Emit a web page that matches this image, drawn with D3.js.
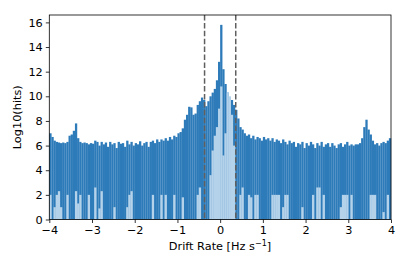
<!DOCTYPE html>
<html><head><meta charset="utf-8">
<script src="https://cdn.jsdelivr.net/npm/d3@7/dist/d3.min.js"></script>
<style>body{margin:0;background:#fff}svg{display:block}text{font-family:"DejaVu Sans",sans-serif}</style>
</head><body><svg id="c" width="407" height="271"></svg>
<script>
const binEdgeStart = -4, binEdgeEnd = 4, binWidth = 0.05;
const allHits = [7.0,6.7,6.4,6.3,6.25,6.2,6.25,6.2,6.3,6.8,
6.9,7.2,7.8,6.6,6.3,6.2,6.25,6.2,6.1,6.2,
6.15,6.4,6.3,6.0,6.3,6.1,6.25,5.9,6.3,6.1,
6.2,5.8,6.3,6.15,6.2,5.9,6.4,6.1,6.3,6.0,
6.2,6.1,6.35,6.0,6.2,6.3,5.9,6.3,6.4,6.2,
6.5,6.3,6.5,6.4,6.6,6.4,6.7,6.5,6.8,6.7,
7.0,7.1,7.4,8.1,8.5,9.15,9.1,8.5,8.6,9.3,
9.6,9.9,9.7,9.2,9.6,10.0,10.3,10.6,11.3,12.8,
15.8,12.2,11.0,10.3,9.9,9.7,9.3,8.9,8.2,7.5,
7.3,7.0,6.8,6.9,6.6,6.8,6.5,6.7,6.6,6.4,
6.7,6.5,6.6,6.4,6.6,6.3,6.5,6.4,6.2,6.5,
6.3,6.1,6.4,6.2,6.3,5.9,6.2,6.1,6.3,5.8,
6.2,6.0,6.3,6.1,5.8,6.2,6.0,6.3,5.9,6.1,
6.2,5.9,6.2,6.0,5.8,6.1,6.2,5.9,6.1,6.3,
6.0,6.1,6.0,6.1,6.1,6.2,6.6,7.5,8.1,7.3,
6.9,6.4,6.1,6.2,6.0,6.2,6.3,6.2,6.4,6.6];
const keptHits = [2.0,0,1.0,2.0,2.3,1.0,0,0,2.0,0,
0,0,2.3,1.3,2.0,0,0,0,2.0,0,
0,2.6,0,0.9,2.3,0,0,0,0,0,
1.0,0,0,0,0,0,1.0,2.0,2.3,0,
0,0,0,0,0,0,0,0,2.0,0,
0,0,2.0,0,2.0,0,0,0,2.0,0,
0,0,1.8,0,0,0,0,0,0,2.0,
2.6,0,0,0,0,3.6,5.6,6.8,7.5,9.0,
10.8,5.2,7.0,10.3,10.0,8.5,6.0,0,0,2.0,
2.6,0,0,2.0,1.8,0,2.0,2.0,0,0,
0,0,0,0,2.0,2.0,2.0,2.0,0,1.0,
2.0,2.0,0,0,0,0,0,0,1.0,0,
0,0,0,2.0,0,2.6,2.6,0,2.0,0,
0,0,0,0,0,0,1.0,2.0,2.0,2.0,
0,2.0,0,0,0,0,0,0,0,0,
2.0,2.0,2.0,0,0,0,0.6,0,2.0,0];
const cutLines = [-0.365, 0.365];
const xTicks = [-4,-3,-2,-1,0,1,2,3,4];
const yTicks = [0,2,4,6,8,10,12,14,16];

const svg = d3.select("#c");
const L = 49.3, R = 391, T = 15, B = 219.5;
const FS = 11.3;
const x = d3.scaleLinear().domain([-4, 4]).range([L, R]);
const y = d3.scaleLinear().domain([0, 16.6]).range([B, T]);
const edges = allHits.map((d, i) => binEdgeStart + i * binWidth);

function drawBars(vals, color) {
  svg.append("g").selectAll("rect").data(vals).join("rect")
    .attr("x", (d, i) => x(edges[i]))
    .attr("width", (d, i) => x(edges[i] + binWidth) - x(edges[i]) + 0.15)
    .attr("y", d => y(d))
    .attr("height", d => y(0) - y(d))
    .attr("fill", color);
}
drawBars(allHits, "#2e7bba");
drawBars(keptHits, "#b4d2ea");

svg.append("g").selectAll("line").data(cutLines).join("line")
  .attr("x1", d => x(d)).attr("x2", d => x(d))
  .attr("y1", T).attr("y2", B)
  .attr("stroke", "#5f5f5f").attr("stroke-width", 1.5)
  .attr("stroke-dasharray", "5.5,2.4");

const xAxis = svg.append("g").attr("transform", `translate(0,${B})`)
  .call(d3.axisBottom(x).tickValues(xTicks).tickSize(3.5).tickPadding(3).tickFormat(d3.format("d")));
const yAxis = svg.append("g").attr("transform", `translate(${L},0)`)
  .call(d3.axisLeft(y).tickValues(yTicks).tickSize(3.5).tickPadding(3).tickFormat(d3.format("d")));
[xAxis, yAxis].forEach(g => {
  g.select(".domain").remove();
  g.selectAll("line").attr("stroke", "#000").attr("stroke-width", 0.8);
  g.selectAll("text").attr("font-size", FS).attr("fill", "#000").style("font-family", "DejaVu Sans");
});
svg.append("rect").attr("x", L).attr("y", T).attr("width", R - L).attr("height", B - T)
  .attr("fill", "none").attr("stroke", "#000").attr("stroke-width", 0.8);

const xl = svg.append("text").attr("x", 220).attr("y", 250).attr("text-anchor", "middle")
  .attr("font-size", FS).attr("fill", "#000");
xl.append("tspan").text("Drift Rate [Hz s");
xl.append("tspan").attr("dy", -4.5).attr("font-size", 8).text("\u22121");
xl.append("tspan").attr("dy", 4.5).text("]");

svg.append("text").attr("transform", `translate(21,${(T + B) / 2}) rotate(-90)`)
  .attr("text-anchor", "middle").attr("font-size", FS).attr("fill", "#000").text("Log10(hits)");
</script></body></html>
